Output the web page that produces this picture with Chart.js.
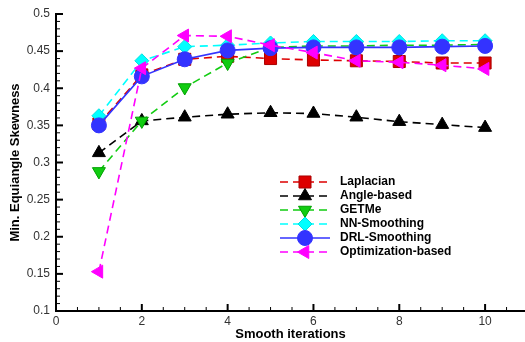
<!DOCTYPE html>
<html>
<head>
<meta charset="utf-8">
<script src="https://cdn.jsdelivr.net/npm/chart.js@4.4.1/dist/chart.umd.min.js"></script>
<style>
  html, body { margin: 0; padding: 0; background: #fff; }
  #wrap { width: 525px; height: 342px; }
</style>
</head>
<body>
<div id="wrap"><canvas id="skew-chart" width="525" height="342"></canvas></div>
<script>
// iterations on x, min equiangle skewness on y
var iterations = [1, 2, 3, 4, 5, 6, 7, 8, 9, 10];
var laplacian = [0.352, 0.418, 0.439, 0.443, 0.440, 0.438, 0.437, 0.436, 0.434, 0.434];
var angleBased = [0.313, 0.356, 0.361, 0.365, 0.367, 0.366, 0.361, 0.355, 0.351, 0.347];
var getme = [0.288, 0.356, 0.401, 0.434, 0.455, 0.457, 0.457, 0.458, 0.458, 0.459];
var nnSmoothing = [0.363, 0.437, 0.456, 0.458, 0.461, 0.463, 0.463, 0.463, 0.464, 0.464];
var drlSmoothing = [0.350, 0.416, 0.439, 0.451, 0.454, 0.455, 0.455, 0.455, 0.456, 0.457];
var optimization = [0.153, 0.427, 0.471, 0.470, 0.458, 0.448, 0.437, 0.435, 0.431, 0.426];

var xTicks = [0, 2, 4, 6, 8, 10];
var yTicks = [0.1, 0.15, 0.2, 0.25, 0.3, 0.35, 0.4, 0.45, 0.5];

function pts(arr) {
  return arr.map(function (v, i) { return { x: iterations[i], y: v }; });
}

function series(label, arr, color, border, style, rot, radius, dash, order) {
  return {
    label: label,
    data: pts(arr),
    borderColor: color,
    backgroundColor: color,
    borderWidth: 1.6,
    borderDash: dash,
    pointStyle: style,
    pointRotation: rot,
    pointRadius: radius,
    pointBackgroundColor: color,
    pointBorderColor: border,
    pointBorderWidth: 1,
    order: order
  };
}

var datasets = [
  series('Laplacian', laplacian, '#dd0000', '#aa0000', 'rect', 0, 8.5, [8, 5], 5),
  series('Angle-based', angleBased, '#000000', '#000000', 'triangle', 0, 7.5, [8, 5], 4),
  series('GETMe', getme, '#11cc11', '#00a000', 'triangle', 180, 7.5, [8, 5], 3),
  series('NN-Smoothing', nnSmoothing, '#00ffff', '#00e0e0', 'rectRot', 0, 7, [8, 5], 2),
  series('DRL-Smoothing', drlSmoothing, '#3333ff', '#3333ff', 'circle', 0, 7.5, [], 1),
  series('Optimization-based', optimization, '#ff00ff', '#ff00ff', 'triangle', -90, 7.5, [8, 5], 0)
];

// inward ticks + hand drawn legend
var decor = {
  id: 'decor',
  afterDatasetsDraw: function (chart) {
    var ctx = chart.ctx;
    var xs = chart.scales.x, ys = chart.scales.y;
    var left = chart.chartArea.left, bottom = chart.chartArea.bottom;
    ctx.save();
    ctx.strokeStyle = '#000';
    var v, p;
    for (v = 10; v <= 50; v += 1) {
      p = ys.getPixelForValue(v / 100);
      var major = v % 5 === 0;
      ctx.lineWidth = major ? 2 : 1;
      ctx.beginPath();
      ctx.moveTo(left, p);
      ctx.lineTo(left + (major ? 7 : 4), p);
      ctx.stroke();
    }
    for (v = 0; v <= 21; v += 1) {
      p = xs.getPixelForValue(v / 2);
      if (p > chart.chartArea.right) break;
      var maj = v % 4 === 0;
      ctx.lineWidth = maj ? 2 : 1;
      ctx.beginPath();
      ctx.moveTo(p, bottom);
      ctx.lineTo(p, bottom - (maj ? 7 : 4));
      ctx.stroke();
    }

    // legend
    var lx0 = 280, lx1 = 330, ly = 182;
    chart.data.datasets.forEach(function (ds, i) {
      var y = ly + i * 14;
      ctx.strokeStyle = ds.borderColor;
      ctx.lineWidth = 1.6;
      ctx.setLineDash(ds.borderDash);
      ctx.beginPath();
      ctx.moveTo(lx0, y);
      ctx.lineTo(lx1, y);
      ctx.stroke();
      ctx.setLineDash([]);
      ctx.fillStyle = ds.pointBackgroundColor;
      ctx.strokeStyle = ds.pointBorderColor;
      ctx.lineWidth = 1;
      Chart.helpers.drawPoint(ctx, {
        pointStyle: ds.pointStyle,
        rotation: ds.pointRotation,
        radius: ds.pointRadius,
        borderWidth: 1
      }, (lx0 + lx1) / 2, y);
      ctx.fillStyle = '#000';
      ctx.font = 'bold 12px "Liberation Sans", Arial, sans-serif';
      ctx.textBaseline = 'middle';
      ctx.textAlign = 'left';
      ctx.fillText(ds.label, 340, y);
    });
    ctx.restore();
  }
};

var ctx = document.getElementById('skew-chart').getContext('2d');
var chart = new Chart(ctx, {
  type: 'line',
  data: { datasets: datasets },
  options: {
    responsive: false,
    animation: false,
    devicePixelRatio: 1,
    layout: { autoPadding: false, padding: { top: 14, right: 0, left: 0, bottom: 0 } },
    plugins: {
      legend: { display: false },
      tooltip: { enabled: false }
    },
    scales: {
      x: {
        type: 'linear',
        min: 0,
        max: 10.93,
        afterBuildTicks: function (s) {
          s.ticks = xTicks.map(function (v) { return { value: v }; });
        },
        afterFit: function (s) { s.height = 31; },
        grid: { display: true, drawOnChartArea: false, drawTicks: false },
        border: { display: true, color: '#000', width: 2 },
        ticks: {
          padding: 3,
          color: '#333',
          font: { family: '"Liberation Sans", Arial, sans-serif', size: 12 },
          maxRotation: 0
        },
        title: {
          display: true,
          text: 'Smooth iterations',
          color: '#000',
          padding: { top: 0, bottom: 0 },
          font: { family: '"Liberation Sans", Arial, sans-serif', size: 13, weight: 'bold' }
        }
      },
      y: {
        min: 0.1,
        max: 0.5,
        afterBuildTicks: function (s) {
          s.ticks = yTicks.map(function (v) { return { value: v }; });
        },
        afterFit: function (s) { s.width = 56; },
        grid: { display: true, drawOnChartArea: false, drawTicks: false },
        border: { display: true, color: '#000', width: 2 },
        ticks: {
          padding: 6,
          color: '#333',
          font: { family: '"Liberation Sans", Arial, sans-serif', size: 12 },
          callback: function (v) { return String(+v.toFixed(2)); }
        },
        title: {
          display: true,
          text: 'Min. Equiangle Skewness',
          color: '#000',
          padding: { top: 8, bottom: 0 },
          font: { family: '"Liberation Sans", Arial, sans-serif', size: 13, weight: 'bold' }
        }
      }
    }
  },
  plugins: [decor]
});
</script>
</body>
</html>
